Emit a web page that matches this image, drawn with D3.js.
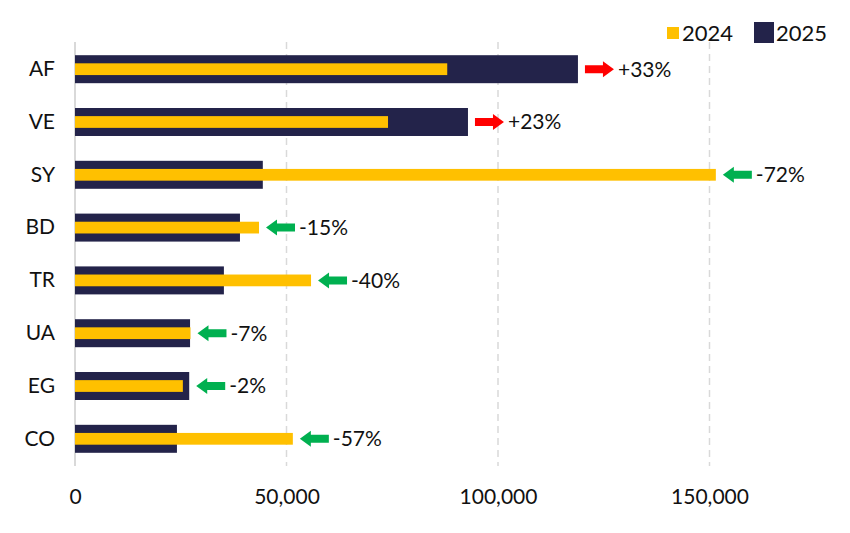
<!DOCTYPE html>
<html>
<head>
<meta charset="utf-8">
<script src="https://cdn.jsdelivr.net/npm/d3@7"></script>
<style>
  body { margin: 0; background: #fff; }
  text { font-family: Lato, "Open Sans", sans-serif; fill: #111; }
</style>
</head>
<body>
<svg id="chart"></svg>
<script>
const countries = ['AF', 'VE', 'SY', 'BD', 'TR', 'UA', 'EG', 'CO'];
const values2024 = [88000, 74000, 151500, 43500, 55800, 27300, 25500, 51500];
const values2025 = [118900, 92900, 44400, 39000, 35200, 27200, 27000, 24100];
const changes = ['+33%', '+23%', '-72%', '-15%', '-40%', '-7%', '-2%', '-57%'];
const xTicks = [0, 50000, 100000, 150000];

const width = 850;
const height = 533;
const margins = { left: 75, right: 35, top: 42, bottom: 67 };
const fontSize = 21;

const svg = d3.select('#chart')
    .attr('width', width)
    .attr('height', height);

const xScale = d3.scaleLinear()
    .domain([0, 175000])
    .range([margins.left, margins.left + 175000 / 50000 * 211.5]);

const yScale = d3.scaleBand()
    .domain(countries)
    .range([margins.top, height - margins.bottom])
    .paddingInner(0.47)
    .paddingOuter(0.25);

// grid
svg.append('g')
  .selectAll('line')
  .data(xTicks.slice(1))
  .join('line')
    .attr('x1', d => xScale(d))
    .attr('x2', d => xScale(d))
    .attr('y1', margins.top)
    .attr('y2', height - margins.bottom)
    .attr('stroke', '#d9d9d9')
    .attr('stroke-width', 1.5)
    .attr('stroke-dasharray', '7,5');

svg.append('line')
    .attr('x1', xScale(0))
    .attr('x2', xScale(0))
    .attr('y1', margins.top)
    .attr('y2', height - margins.bottom)
    .attr('stroke', '#d9d9d9')
    .attr('stroke-width', 2);

// x axis
const xAxis = d3.axisBottom(xScale)
    .tickValues(xTicks)
    .tickFormat(d3.format(','))
    .tickSize(0)
    .tickPadding(19);

const xg = svg.append('g')
    .attr('transform', `translate(0, ${height - margins.bottom + 4})`)
    .call(xAxis);
xg.select('.domain').remove();
xg.selectAll('text')
    .attr('font-size', fontSize)
    .attr('fill', '#111')
    .style('font-family', 'Lato, "Open Sans", sans-serif');

// y axis
const yAxis = d3.axisLeft(yScale)
    .tickSize(0)
    .tickPadding(20);

const yg = svg.append('g')
    .attr('transform', `translate(${margins.left}, 0)`)
    .call(yAxis);
yg.select('.domain').remove();
yg.selectAll('text')
    .attr('font-size', fontSize)
    .attr('fill', '#111')
    .style('font-family', 'Lato, "Open Sans", sans-serif');

// bars
const bw = yScale.bandwidth();

svg.append('g')
  .selectAll('rect')
  .data(countries)
  .join('rect')
    .attr('x', xScale(0))
    .attr('y', d => yScale(d))
    .attr('width', (d, i) => xScale(values2025[i]) - xScale(0))
    .attr('height', bw)
    .attr('fill', '#23234a');

svg.append('g')
  .selectAll('rect')
  .data(countries)
  .join('rect')
    .attr('x', xScale(0))
    .attr('y', d => yScale(d) + bw * 0.29)
    .attr('width', (d, i) => xScale(values2024[i]) - xScale(0))
    .attr('height', bw * 0.42)
    .attr('fill', '#ffc000');

// change arrows + labels
const arrowLen = 30;
const arrows = svg.append('g')
  .selectAll('g')
  .data(countries)
  .join('g')
    .attr('transform', (d, i) => {
      const end = xScale(Math.max(values2024[i], values2025[i]));
      return `translate(${end + 7}, ${yScale(d) + bw / 2})`;
    });

arrows.append('path')
    .attr('d', (d, i) => {
      const up = changes[i].startsWith('+');
      return up
        ? 'M0,-4 L18,-4 L18,-8 L29,0 L18,8 L18,4 L0,4 Z'
        : 'M29,-4 L11,-4 L11,-8 L0,0 L11,8 L11,4 L29,4 Z';
    })
    .attr('fill', (d, i) => changes[i].startsWith('+') ? '#ff0000' : '#00b050');

arrows.append('text')
    .attr('x', arrowLen + 3)
    .attr('dy', '0.35em')
    .attr('font-size', fontSize)
    .text((d, i) => changes[i]);

// legend
const legend = svg.append('g');
legend.append('rect')
    .attr('x', 667).attr('y', 27)
    .attr('width', 12).attr('height', 12)
    .attr('fill', '#ffc000');
legend.append('text')
    .attr('x', 682).attr('y', 41)
    .attr('font-size', 22)
    .text('2024');
legend.append('rect')
    .attr('x', 754).attr('y', 22)
    .attr('width', 20).attr('height', 21)
    .attr('fill', '#23234a');
legend.append('text')
    .attr('x', 776).attr('y', 41)
    .attr('font-size', 22)
    .text('2025');
</script>
</body>
</html>
